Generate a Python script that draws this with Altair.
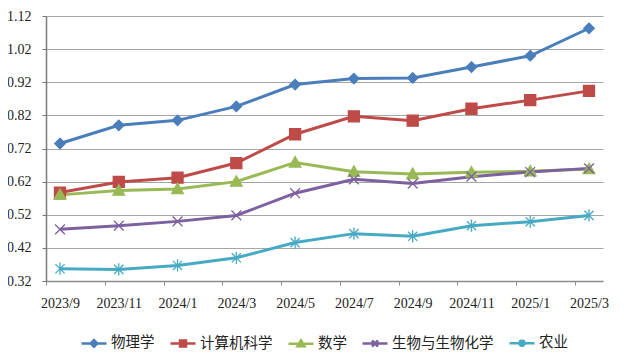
import altair as alt
import pandas as pd

months = ["2023/9", "2023/11", "2024/1", "2024/3", "2024/5",
          "2024/7", "2024/9", "2024/11", "2025/1", "2025/3"]
series = ["物理学", "计算机科学", "数学", "生物与生物化学", "农业"]
colors = ["#4A7EBB", "#BE4B48", "#98B954", "#7D60A0", "#46AAC5"]

physics = [0.735, 0.790, 0.805, 0.847, 0.913, 0.931, 0.933, 0.966, 1.000, 1.083]
computer = [0.587, 0.619, 0.632, 0.676, 0.763, 0.817, 0.804, 0.840, 0.866, 0.894]
math_ = [0.580, 0.593, 0.598, 0.620, 0.678, 0.650, 0.643, 0.648, 0.651, 0.658]
biology = [0.476, 0.487, 0.500, 0.518, 0.585, 0.627, 0.614, 0.635, 0.649, 0.660]
agriculture = [0.357, 0.355, 0.367, 0.390, 0.436, 0.463, 0.455, 0.487, 0.499, 0.518]

y_ticks = [0.32, 0.42, 0.52, 0.62, 0.72, 0.82, 0.92, 1.02, 1.12]

values = [physics, computer, math_, biology, agriculture]
rows = []
for name, vals in zip(series, values):
    for m, v in zip(months, vals):
        rows.append({"month": m, "series": name, "value": v})
df = pd.DataFrame(rows)

# marker shapes for the plot
marker_shapes = [
    "M0,-0.85L0.85,0L0,0.85L-0.85,0Z",
    "M-0.9,-0.9L0.9,-0.9L0.9,0.9L-0.9,0.9Z",
    "M0,-0.95L0.95,0.75L-0.95,0.75Z",
    "M-0.8,-0.8L0.8,0.8M-0.8,0.8L0.8,-0.8",
    "M-0.75,-0.75L0.75,0.75M-0.75,0.75L0.75,-0.75M0,-1L0,1",
]
# legend symbols: line with a small marker
legend_shapes = [
    "M-1,0L1,0M0,-0.26L0.26,0L0,0.26L-0.26,0Z",
    "M-1,0L1,0M-0.24,-0.24L0.24,-0.24L0.24,0.24L-0.24,0.24Z",
    "M-1,0L1,0M0,-0.27L0.28,0.2L-0.28,0.2Z",
    "M-1,0L1,0M-0.24,-0.24L0.24,0.24M-0.24,0.24L0.24,-0.24",
    "M-1,0L1,0M-0.22,-0.22L0.22,0.22M-0.22,0.22L0.22,-0.22M0,-0.3L0,0.3",
]

serif = "Liberation Serif"
cjk = "Noto Sans CJK SC"

x_enc = alt.X(
    "month:O", sort=months,
    scale=alt.Scale(type="point", padding=0.238),
    axis=alt.Axis(
        title=None, labelAngle=0, grid=False,
        labelFont=serif, labelFontSize=14, labelColor="#222",
        domainColor="#8c8c8c", domainWidth=1.5,
        tickColor="#8c8c8c", tickSize=4, tickWidth=1,
        tickOffset=-14, labelOffset=14, labelPadding=11,
    ),
)
y_enc = alt.Y(
    "value:Q",
    scale=alt.Scale(domain=[0.32, 1.12], nice=False, zero=False),
    axis=alt.Axis(
        title=None, values=y_ticks, format=".2f",
        labelFont=serif, labelFontSize=14, labelColor="#222",
        domainColor="#7a7a7a", domainWidth=1.5,
        tickColor="#7a7a7a", tickSize=4,
        labelPadding=11,
        grid=True, gridColor="#a6a6a6", gridWidth=1.2,
    ),
)

lines = alt.Chart(df).mark_line(strokeWidth=3).encode(
    x=x_enc, y=y_enc,
    color=alt.Color("series:N", sort=series,
                    scale=alt.Scale(domain=series, range=colors), legend=None),
)

points = alt.Chart(df).mark_point(filled=True, size=150, strokeWidth=1.3, opacity=1).encode(
    x=x_enc, y=y_enc,
    shape=alt.Shape("series:N", sort=series,
                    scale=alt.Scale(domain=series, range=marker_shapes), legend=None),
    fill=alt.Fill("series:N", sort=series,
                  scale=alt.Scale(domain=series, range=colors), legend=None),
    stroke=alt.Stroke("series:N", sort=series,
                      scale=alt.Scale(domain=series, range=colors), legend=None),
)

legend_def = dict(
    title=None, orient="none", legendX=34, legendY=313,
    direction="horizontal", symbolSize=625, symbolStrokeWidth=2.5,
    labelFont=cjk, labelFontSize=14.5, labelColor="#222",
    labelOffset=3, columnPadding=10, symbolOpacity=1,
)

legend_layer = alt.Chart(df).transform_filter("false").mark_point(
    filled=True, size=625, strokeWidth=2.5
).encode(
    shape=alt.Shape("series:N", sort=series,
                    scale=alt.Scale(domain=series, range=legend_shapes),
                    legend=alt.Legend(**legend_def)),
    fill=alt.Fill("series:N", sort=series,
                  scale=alt.Scale(domain=series, range=colors),
                  legend=alt.Legend(**legend_def)),
    stroke=alt.Stroke("series:N", sort=series,
                      scale=alt.Scale(domain=series, range=colors),
                      legend=alt.Legend(**legend_def)),
)

chart = alt.layer(lines, points, legend_layer).resolve_scale(
    shape="independent", fill="independent", stroke="independent"
).properties(
    width=557, height=265,
    autosize=alt.AutoSizeParams(type="none"),
    padding={"left": 38, "top": 8, "right": 20, "bottom": 73},
).configure(background="white").configure_view(strokeWidth=0, stroke="transparent")

chart.save("out.html", embed_options={"renderer": "svg", "actions": False})
